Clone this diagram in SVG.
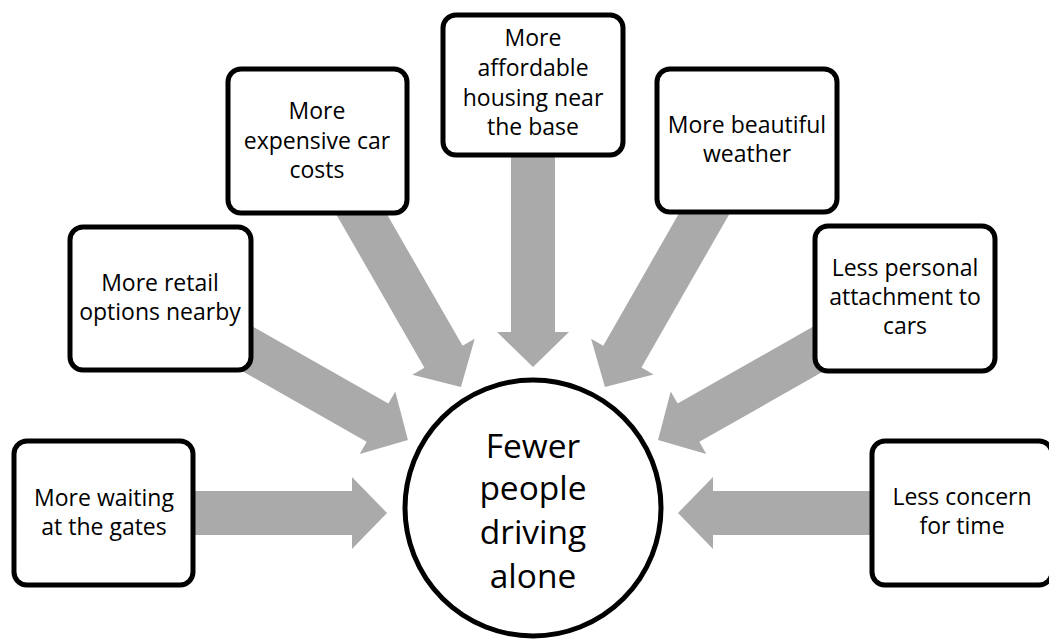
<svg xmlns="http://www.w3.org/2000/svg" width="1049" height="642" viewBox="0 0 1049 642">
<style>
.box{fill:#fff;stroke:#000;stroke-width:5}
.arr{fill:#aaaaaa}
.t{font-family:"Open Sans","Noto Sans",sans-serif;font-size:23px;fill:#000;text-anchor:middle}
.c{font-family:"Open Sans","Noto Sans",sans-serif;font-size:33.5px;fill:#000;text-anchor:middle}
</style>
<rect width="1049" height="642" fill="#fff"/>
<g id="connectors">
<polygon class="arr" transform="translate(195,513) rotate(0)" points="-30,-22 157,-22 157,-36 192,0 157,36 157,22 -30,22"/>
<polygon class="arr" transform="translate(870,513) rotate(180)" points="-30,-22 157,-22 157,-36 192,0 157,36 157,22 -30,22"/>
<polygon class="arr" transform="translate(533,157) rotate(90)" points="-30,-22 175,-22 175,-36 210,0 175,36 175,22 -30,22"/>
<polygon class="arr" transform="translate(362,215) rotate(60.1)" points="-30,-22 163.5,-22 163.5,-36 198.5,0 163.5,36 163.5,22 -30,22"/>
<polygon class="arr" transform="translate(704,214) rotate(119.8)" points="-30,-22 164.3,-22 164.3,-36 199.3,0 164.3,36 164.3,22 -30,22"/>
<polygon class="arr" transform="translate(813,352) rotate(150.4)" points="-30,-22 143.2,-22 143.2,-36 178.2,0 143.2,36 143.2,22 -30,22"/>
<polygon class="arr" transform="translate(253,352) rotate(29.6)" points="-30,-22 143.2,-22 143.2,-36 178.2,0 143.2,36 143.2,22 -30,22"/>
</g>
<g id="n-waiting">
<rect class="box" x="14" y="441" width="179" height="144" rx="13"/>
<text class="t" x="104" y="506">More waiting</text>
<text class="t" x="104" y="535">at the gates</text>
</g>
<g id="n-retail">
<rect class="box" x="70" y="227" width="181" height="143" rx="13"/>
<text class="t" x="160" y="291">More retail</text>
<text class="t" x="160" y="320">options nearby</text>
</g>
<g id="n-expensive">
<rect class="box" x="228" y="69" width="179" height="144" rx="13"/>
<text class="t" x="317" y="119">More</text>
<text class="t" x="317" y="149">expensive car</text>
<text class="t" x="317" y="178">costs</text>
</g>
<g id="n-affordable">
<rect class="box" x="443" y="15" width="180" height="140" rx="13"/>
<text class="t" x="533" y="46">More</text>
<text class="t" x="533" y="76">affordable</text>
<text class="t" x="533" y="106">housing near</text>
<text class="t" x="533" y="135">the base</text>
</g>
<g id="n-weather">
<rect class="box" x="657" y="69" width="180" height="143" rx="13"/>
<text class="t" x="747" y="133">More beautiful</text>
<text class="t" x="747" y="162">weather</text>
</g>
<g id="n-personal">
<rect class="box" x="815" y="226" width="180" height="145" rx="13"/>
<text class="t" x="905" y="276">Less personal</text>
<text class="t" x="905" y="305">attachment to</text>
<text class="t" x="905" y="334">cars</text>
</g>
<g id="n-time">
<rect class="box" x="872" y="441" width="180" height="144" rx="13"/>
<text class="t" x="962" y="505">Less concern</text>
<text class="t" x="962" y="534">for time</text>
</g>
<g id="n-center">
<circle cx="533" cy="508" r="128" fill="#fff" stroke="#000" stroke-width="5"/>
<text class="c" x="533" y="458">Fewer</text>
<text class="c" x="533" y="500">people</text>
<text class="c" x="533" y="544">driving</text>
<text class="c" x="533" y="588">alone</text>
</g>
</svg>
